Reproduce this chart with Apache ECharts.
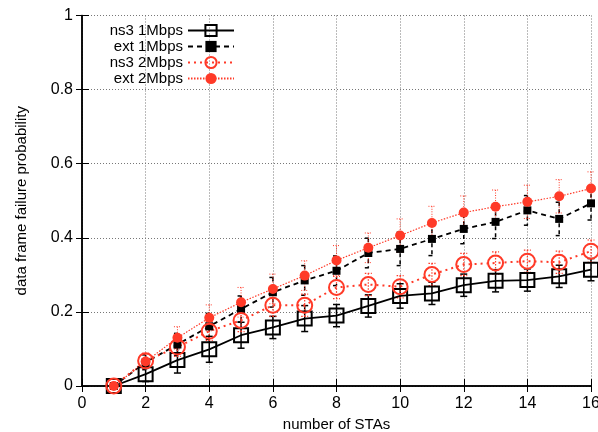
<!DOCTYPE html>
<html>
<head>
<meta charset="utf-8">
<script src="https://cdn.jsdelivr.net/npm/echarts@6/dist/echarts.min.js"></script>
<style>
html,body{margin:0;padding:0;background:#fff;}
#chart{width:598px;height:432px;}
</style>
</head>
<body>
<div id="chart"></div>
<script>
// ---- data ----
var stations = [1,2,3,4,5,6,7,8,9,10,11,12,13,14,15,16];
var seriesNames = ['ns3 1Mbps','ext 1Mbps','ns3 2Mbps','ext 2Mbps'];
var ns3_1M = [0,0.032,0.070,0.099,0.137,0.158,0.182,0.190,0.216,0.243,0.250,0.272,0.284,0.286,0.296,0.314];
var ns3_1M_err = [0,0.020,0.035,0.035,0.035,0.030,0.035,0.030,0.030,0.033,0.030,0.030,0.030,0.030,0.030,0.030];
var ext_1M = [0,0.064,0.112,0.161,0.208,0.253,0.285,0.311,0.359,0.370,0.397,0.424,0.443,0.474,0.451,0.493];
var ext_1M_err = [0,0.020,0.030,0.035,0.035,0.040,0.040,0.040,0.040,0.045,0.045,0.040,0.045,0.040,0.045,0.045];
var ns3_2M = [0,0.068,0.105,0.148,0.177,0.218,0.218,0.266,0.274,0.268,0.301,0.328,0.332,0.337,0.334,0.364];
var ns3_2M_err = [0,0.020,0.025,0.025,0.030,0.030,0.030,0.030,0.030,0.030,0.030,0.030,0.030,0.030,0.030,0.030];
var ext_2M = [0,0.066,0.130,0.184,0.226,0.262,0.298,0.339,0.373,0.406,0.440,0.468,0.484,0.497,0.512,0.533];
var ext_2M_err = [0,0.020,0.030,0.035,0.040,0.040,0.040,0.040,0.040,0.045,0.045,0.045,0.045,0.045,0.045,0.045];
var xTicks = [0,2,4,6,8,10,12,14,16];
var yTicks = [0,0.2,0.4,0.6,0.8,1];

var RED = '#ff3a28';
var FONT = '"Liberation Sans", Arial, Helvetica, sans-serif';

function pts(vals){ return stations.map(function(s,i){ return [s, vals[i]]; }); }
function errPts(vals, errs){ return stations.map(function(s,i){ return [s, vals[i], errs[i]]; }); }

function errSeries(name, vals, errs, color, width, dash){
  return {
    type:'custom', name: name + ' err', data: errPts(vals, errs),
    z: 3, silent: true, legendHoverLink:false,
    renderItem: function(params, api){
      var x = api.value(0), y = api.value(1), e = api.value(2);
      if (!e) return;
      var top = api.coord([x, y + e]);
      var bot = api.coord([x, y - e]);
      var c = 3.5;
      var st = {stroke: color, lineWidth: width, lineDash: dash, fill: null};
      return {type:'group', children:[
        {type:'line', shape:{x1:top[0], y1:top[1], x2:bot[0], y2:bot[1]}, style: st},
        {type:'line', shape:{x1:top[0]-c, y1:top[1], x2:top[0]+c, y2:top[1]}, style: st},
        {type:'line', shape:{x1:bot[0]-c, y1:bot[1], x2:bot[0]+c, y2:bot[1]}, style: st}
      ]};
    }
  };
}

var chart = echarts.init(document.getElementById('chart'), null, {renderer:'canvas'});
var option = {
  animation:false,
  textStyle:{fontFamily:FONT},
  grid:{left:82, right:7, top:15.5, bottom:46, containLabel:false, outerBoundsMode:'none'},
  legend:{
    orient:'vertical', align:'right', right:358, top:18,
    itemWidth:46, itemHeight:14, itemGap:1,
    data: seriesNames,
    textStyle:{fontSize:15, color:'#000', fontFamily:FONT, lineHeight:15}
  },
  xAxis:[{
    type:'value', min:xTicks[0], max:xTicks[xTicks.length-1], interval:2,
    name:'number of STAs', nameLocation:'middle', nameGap:28,
    nameTextStyle:{fontSize:15, color:'#000', fontFamily:FONT},
    axisLine:{show:true, lineStyle:{color:'#000', width:1.5}},
    axisTick:{show:true, inside:true, length:7, lineStyle:{color:'#000'}},
    axisLabel:{fontSize:16, color:'#000', margin:10, fontFamily:FONT, showMaxLabel:true},
    splitLine:{show:true, lineStyle:{color:'#777', type:[1,2], width:1}}
  },{
    type:'value', position:'top', min:xTicks[0], max:xTicks[xTicks.length-1], interval:2,
    axisLine:{show:true, lineStyle:{color:'#000', width:1.5}},
    axisTick:{show:true, inside:true, length:6, lineStyle:{color:'#000'}},
    axisLabel:{show:false}, splitLine:{show:false}
  }],
  yAxis:[{
    type:'value', min:yTicks[0], max:yTicks[yTicks.length-1], interval:0.2,
    name:'data frame failure probability', nameLocation:'middle', nameGap:53, nameRotate:90,
    nameTextStyle:{fontSize:15, color:'#000', fontFamily:FONT},
    axisLine:{show:true, lineStyle:{color:'#000', width:1.5}},
    axisTick:{show:true, inside:true, length:7, lineStyle:{color:'#000'}},
    axisLabel:{fontSize:16, color:'#000', margin:9, fontFamily:FONT,
      formatter:function(v){ return String(Math.round(v*10)/10); }},
    splitLine:{show:true, lineStyle:{color:'#777', type:[1,2], width:1}}
  },{
    type:'value', position:'right', min:yTicks[0], max:yTicks[yTicks.length-1], interval:0.2,
    axisLine:{show:true, lineStyle:{color:'#000', width:1.5}},
    axisTick:{show:true, inside:true, length:6, lineStyle:{color:'#000'}},
    axisLabel:{show:false}, splitLine:{show:false}
  }],
  series:[
    {
      type:'line', name:seriesNames[0], data:pts(ns3_1M), z:4,
      symbol:'rect', symbolSize:14, showAllSymbol:true,
      lineStyle:{color:'#000', width:1.8, type:'solid'},
      itemStyle:{color:'rgba(0,0,0,0)', borderColor:'#000', borderWidth:2}
    },
    errSeries(seriesNames[0], ns3_1M, ns3_1M_err, '#000', 1.5, null),
    {
      type:'line', name:seriesNames[1], data:pts(ext_1M), z:4,
      symbol:'rect', symbolSize:8, showAllSymbol:true,
      lineStyle:{color:'#000', width:1.8, type:[5,4]},
      itemStyle:{color:'#000', borderWidth:0}
    },
    errSeries(seriesNames[1], ext_1M, ext_1M_err, '#000', 1.5, [4,3]),
    {
      type:'line', name:seriesNames[2], data:pts(ns3_2M), z:4,
      symbol:'circle', symbolSize:15, showAllSymbol:true,
      lineStyle:{color:RED, width:2, type:[2,4]},
      itemStyle:{color:'rgba(0,0,0,0)', borderColor:RED, borderWidth:2}
    },
    errSeries(seriesNames[2], ns3_2M, ns3_2M_err, RED, 1.2, [1.5,1.5]),
    {
      type:'line', name:seriesNames[3], data:pts(ext_2M), z:4,
      symbol:'circle', symbolSize:10, showAllSymbol:true,
      lineStyle:{color:RED, width:1.2, type:[1.5,1.5]},
      itemStyle:{color:RED, borderWidth:0}
    },
    errSeries(seriesNames[3], ext_2M, ext_2M_err, RED, 1, [1,1.5])
  ]
};
chart.setOption(option);
</script>
</body>
</html>
